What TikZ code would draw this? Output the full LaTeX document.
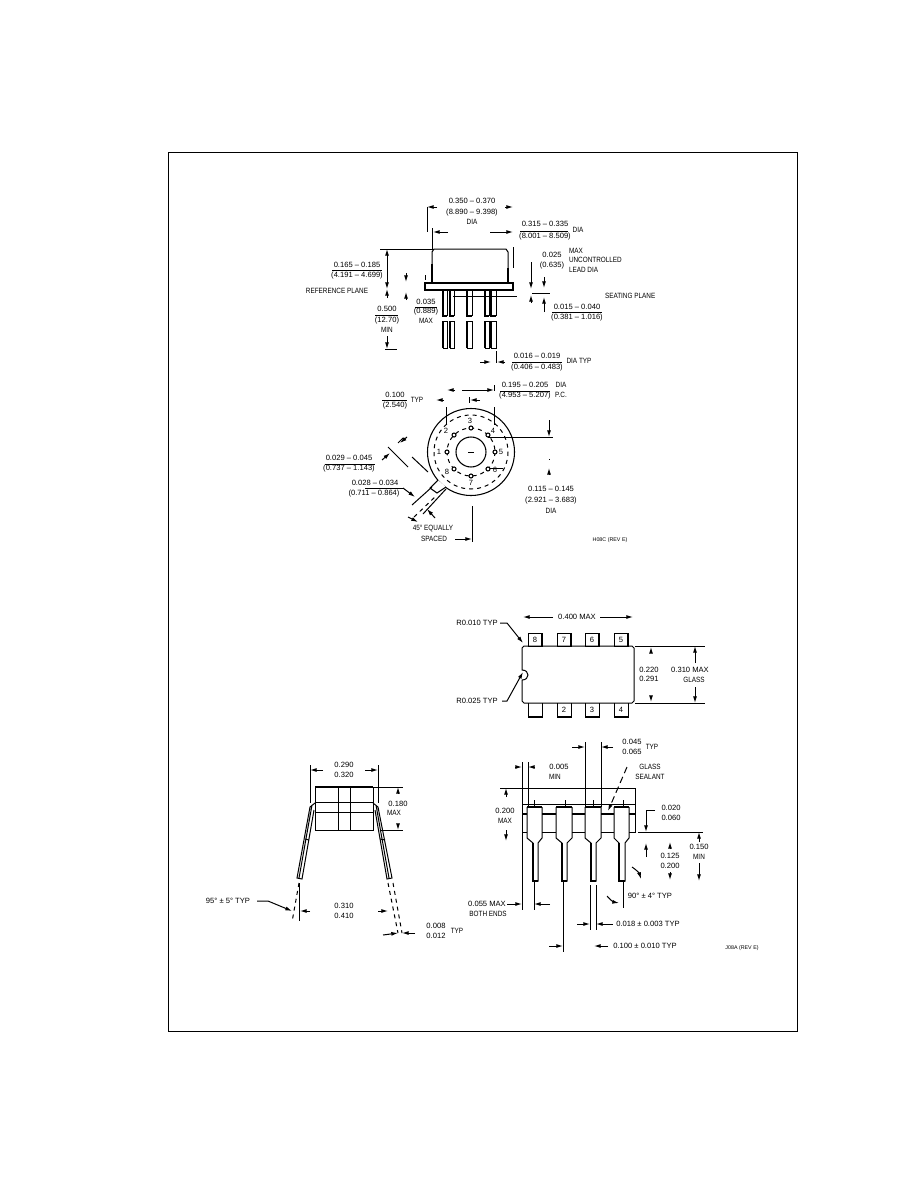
\documentclass[tikz,border=0pt]{standalone}
\usepackage{fontspec}
\setmainfont{Liberation Sans}
\newfontfamily\capsfont[FakeStretch=0.84]{Liberation Sans}
\usepackage{tikz}
\usetikzlibrary{arrows.meta,calc}
\newcommand{\lab}[3]{\node[dimtext] (#1) at (#2) {#3};}
\newcommand{\caplab}[3]{\node[captext] (#1) at (#2) {#3};}
\newcommand{\caplableft}[3]{\node[captext,anchor=west] (#1) at (#2) {#3};}
\newcommand{\tinylab}[3]{\node[dimtext,font=\fontsize{4}{4}\selectfont] (#1) at (#2) {#3};}
\newcommand{\dimrule}[3]{\draw (#1,#3) -- (#2,#3);}
\newcommand{\toppin}[3]{
	\draw (#1,633) rectangle (#2,646);
	\draw[heavy] (#2,633) -- (#2,646);
	\lab{top#3}{$(#1,639.5)!0.5!(#2,639.5)$}{#3}
}
\newcommand{\botpin}[3]{
	\draw (#1,703) -- (#1,717) -- (#2,717) -- (#2,703);
	\draw[heavy] (#1,717) -- (#2,717);
	\lab{bot#3}{$(#1,710)!0.5!(#2,710)$}{#3}
}
\newcommand{\frontpin}[5]{
	\draw (#1,807) -- (#1,838) -- (#3,843) -- (#3,881) -- (#4,881) -- (#4,843) -- (#2,838) -- (#2,807);
	\draw[heavy] (#1,807) -- (#2,807);
	\draw[heavy] (#3,843) -- (#3,881) -- (#4,881);
	\draw (#5,800) -- (#5,807);
}
\tikzset{
	dimtext/.style={inner sep=0pt,outer sep=0pt,font=\fontsize{5.7}{6}\selectfont},
	captext/.style={inner sep=0pt,outer sep=0pt,font=\fontsize{5.7}{6}\capsfont},
	dimarrow/.style={-{Latex[length=5pt,width=3pt]}},
	heavy/.style={line width=1.5pt},
	leaddash/.style={dash pattern=on 5pt off 3pt}
}

\begin{document}
\begin{tikzpicture}[x=0.75pt,y=-0.75pt,line width=0.75pt]
	\path[use as bounding box,fill=white] (0,0) rectangle (918,1188);
	\draw (168,152) rectangle (797,1031);

	% metal can, side
	\draw (432,283) -- (432,252) -- (434,249) -- (506,249) -- (508,252) -- (508,283);
	\draw[fill=white,thick] (425,283) rectangle (513,290);
	\draw[heavy] (432,264) -- (432,283) (508,268) -- (508,283) (425,290) -- (513,290) (476,283) -- (513,283);
	\foreach \xa/\xb in {443/447,450/454,467/472,485/489,491/496}{
		\draw[heavy] (\xa,290) -- (\xa,316) -- (\xb,316);
		\draw (\xb,290) -- (\xb,316);
		\draw[heavy] (\xa,348) -- (\xa,321);
		\draw (\xa,321) -- (\xb,321) -- (\xb,348) -- (\xa,348);
	}
	\draw (453,296) -- (517,296);
	\draw (380,249) -- (432,249);
	\draw (427,207) -- (427,232) (432,228) -- (432,250);
	\draw (513,247) -- (513,268);
	\draw[dimarrow] (437,207) -- (427,207);
	\draw[dimarrow] (505,207) -- (513,207);
	\draw[dimarrow] (448,232) -- (433,232);
	\draw[dimarrow] (490,232) -- (513,232);
	\draw[dimarrow] (387,265) -- (387,249);
	\draw[dimarrow] (387,265) -- (387,289);
	\draw[dimarrow] (387,298) -- (387,289);
	\draw[dimarrow] (387,336) -- (387,349);
	\draw (385,349) -- (397,349);
	\draw[dimarrow] (406,273) -- (406,282);
	\draw[dimarrow] (406,300) -- (406,292);
	\draw (425,275) -- (425,280);
	\draw[dimarrow] (531,262) -- (531,289);
	\draw[dimarrow] (544,277) -- (544,288);
	\draw (532,293) -- (550,293);
	\draw[dimarrow] (531,303) -- (531,295);
	\draw[dimarrow] (544,312) -- (544,297);
	\draw[dimarrow] (480,362) -- (491,362);
	\draw (496,351) -- (496,363);
	\draw[dimarrow] (505,362) -- (497,362);

	\lab{canA}{472,201}{0.350 -- 0.370}
	\lab{canB}{472,213}{(8.890 -- 9.398)}
	\caplab{canC}{472,222}{DIA}
	\lab{capA}{545,224}{0.315 -- 0.335}
	\dimrule{520}{568}{231}
	\lab{capB}{545,237}{(8.001 -- 8.509)}
	\caplab{capC}{578,230}{DIA}
	\lab{hgtA}{357,265}{0.165 -- 0.185}
	\dimrule{332}{382}{270}
	\lab{hgtB}{357,276}{(4.191 -- 4.699)}
	\caplab{refp}{337,291}{REFERENCE PLANE}
	\lab{minA}{387,309}{0.500}
	\dimrule{375}{398}{315}
	\lab{minB}{387,321}{(12.70)}
	\caplab{minC}{387,330}{MIN}
	\lab{flgA}{426,302}{0.035}
	\dimrule{415}{437}{307}
	\lab{flgB}{426,312}{(0.889)}
	\caplab{flgC}{426,321}{MAX}
	\lab{uncA}{552,255}{0.025}
	\lab{uncB}{552,266}{(0.635)}
	\caplableft{uncC}{569,251}{MAX}
	\caplableft{uncD}{569,260}{UNCONTROLLED}
	\caplableft{uncE}{569,270}{LEAD DIA}
	\caplableft{seat}{605,296}{SEATING PLANE}
	\lab{seaA}{577,307}{0.015 -- 0.040}
	\dimrule{552}{602}{312}
	\lab{seaB}{577,318}{(0.381 -- 1.016)}
	\lab{ledA}{537,356}{0.016 -- 0.019}
	\dimrule{512}{562}{362}
	\lab{ledB}{537,368}{(0.406 -- 0.483)}
	\caplab{ledC}{579,361}{DIA TYP}

	% metal can, from below
	\coordinate (O) at (471,452);
	\draw[thick] (O) circle (43.5);
	\fill[white] (438,480) -- (446,487) -- (437,493) -- (430,488) -- cycle;
	\draw[thick] (446,487) -- (437,493) -- (430,488) -- (438,480);
	\draw[dashed] (O) circle (37);
	\draw[dashed] (O) circle (24);
	\draw[thick] (O) circle (15);
	\draw (468,452) -- (474,452);
	\foreach \a in {0,45,...,315}{
		\draw[fill=white,thick] ($(O)+(\a:24)$) circle (2);
	}
	\lab{pinA}{439,452}{1}
	\lab{pinB}{446,431}{2}
	\lab{pinC}{470,421}{3}
	\lab{pinD}{493,431}{4}
	\lab{pinE}{501,452}{5}
	\lab{pinF}{495,470}{6}
	\lab{pinG}{471,483}{7}
	\lab{pinH}{447,472}{8}

	\draw (446,407) -- (446,425) (494,407) -- (494,425) (494,385) -- (494,391);
	\draw[dimarrow] (444,400) -- (436,400);
	\draw[dimarrow] (480,400) -- (470,400);
	\draw (469,397) -- (469,403);
	\draw[dimarrow] (462,390) -- (494,390);
	\draw[dimarrow] (455,390) -- (447,390);
	\draw (488,437) -- (553,437);
	\draw[dimarrow] (549,420) -- (549,437);
	\draw[dimarrow] (549,475) -- (549,468);
	\draw (549,459) -- (549,460);
	\draw (490,468) -- (503,468);
	% ruled lines at the tab
	\draw (388,447) -- (408,467) (412,457) -- (428,472);
	\draw (398,443) -- (403,438);
	\draw[dimarrow] (407,437) -- (400,443);
	\draw[dimarrow] (382,460) -- (390,453);
	\draw (412,505) -- (432,487) (423,514) -- (446,489);
	\draw[dashed] (414,517) -- (437,495);
	\draw[dimarrow] (403,488) -- (415,497);
	\draw[dimarrow] (435,518) -- (427,509);
	\draw[dimarrow] (408,517) -- (418,522);
	\draw (472,506) -- (472,542);
	\draw[dimarrow] (455,539) -- (472,539);

	\lab{typA}{395,395}{0.100}
	\dimrule{382}{407}{400}
	\lab{typB}{395,406}{(2.540)}
	\caplab{typC}{417,400}{TYP}
	\lab{pcdA}{525,385}{0.195 -- 0.205}
	\dimrule{500}{550}{391}
	\lab{pcdB}{525,396}{(4.953 -- 5.207)}
	\caplab{pcdC}{561,385}{DIA}
	\caplab{pcdD}{561,395}{P.C.}
	\lab{tabA}{349,458}{0.029 -- 0.045}
	\dimrule{325}{375}{464}
	\lab{tabB}{349,469}{(0.737 -- 1.143)}
	\lab{wdtA}{375,483}{0.028 -- 0.034}
	\dimrule{365}{403}{488}
	\lab{wdtB}{374,494}{(0.711 -- 0.864)}
	\caplab{eqlA}{433,529}{45° EQUALLY}
	\caplab{eqlB}{434,539}{SPACED}
	\lab{rimA}{551,489}{0.115 -- 0.145}
	\lab{rimB}{551,501}{(2.921 -- 3.683)}
	\caplab{rimC}{551,511}{DIA}
	\tinylab{refA}{610,540}{H08C (REV E)}

	% dual in line, from above
	\draw (524,646) -- (632,646) -- (634,648) -- (634,701) -- (632,703) -- (524,703) -- (522,701) -- (522,680) .. controls (530,680) and (530,670) .. (522,670) -- (522,648) -- cycle;
	\toppin{528}{542}{8}
	\toppin{557}{571}{7}
	\toppin{585}{599}{6}
	\toppin{614}{628}{5}
	\botpin{528}{542}{}
	\botpin{557}{571}{2}
	\botpin{585}{599}{3}
	\botpin{614}{628}{4}
	\lab{dipA}{577,617}{0.400 MAX}
	\draw[dimarrow] (553,617) -- (523,617);
	\draw[dimarrow] (600,617) -- (633,617);
	\draw (635,646) -- (705,646) (635,703) -- (705,703);
	\draw[dimarrow] (651,652) -- (651,647);
	\draw[dimarrow] (651,697) -- (651,702);
	\lab{dipB}{649,670}{0.220}
	\lab{dipC}{649,679}{0.291}
	\draw[dimarrow] (695,663) -- (695,646);
	\draw[dimarrow] (695,687) -- (695,703);
	\lab{dipD}{690,670}{0.310 MAX}
	\caplab{dipE}{694,680}{GLASS}
	\lab{radA}{477,623}{R0.010 TYP}
	\draw[dimarrow] (500,623) -- (507,623) -- (523,643);
	\lab{radB}{477,701}{R0.025 TYP}
	\draw[dimarrow] (502,701) -- (507,701) -- (523,672);

	% dual in line, from the side
	\draw (522,788) rectangle (635,832);
	\draw (522,804) -- (635,804);
	\draw[heavy] (522,814) -- (635,814);
	\foreach \xa/\xb/\xc/\xd/\xe in {527/542/533/538/534,556/572/562/567/565,585/601/591/596/593,614/629/619/625/623}{
		\fill[white] (\xa,807) rectangle (\xb,838);
		\frontpin{\xa}{\xb}{\xc}{\xd}{\xe}
	}
	\draw (585,742) -- (585,807) (601,742) -- (601,807);
	\draw[dimarrow] (572,747) -- (585,747);
	\draw[dimarrow] (613,747) -- (601,747);
	\lab{frtA}{632,742}{0.045}
	\lab{frtB}{632,752}{0.065}
	\caplab{frtC}{652,747}{TYP}
	\draw (522,762) -- (522,910) (528,762) -- (528,807);
	\draw[dimarrow] (515,767) -- (522,767);
	\draw[dimarrow] (534,767) -- (528,767);
	\lab{frtD}{559,767}{0.005}
	\caplab{frtE}{555,777}{MIN}
	\caplab{glsA}{650,767}{GLASS}
	\caplab{glsB}{650,777}{SEALANT}
	\draw[dimarrow,leaddash] (627,767) -- (608,811);
	\draw (500,788) -- (522,788);
	\draw[dimarrow] (506,797) -- (506,788);
	\draw[dimarrow] (506,830) -- (506,841);
	\lab{frtF}{505,811}{0.200}
	\caplab{frtG}{505,821}{MAX}
	\draw[dimarrow] (655,810) -- (646,810) -- (646,832);
	\draw (638,832) -- (703,832);
	\draw[dimarrow] (646,857) -- (646,843);
	\lab{frtH}{671,808}{0.020}
	\lab{frtI}{671,818}{0.060}
	\draw[dimarrow] (670,849) -- (670,842);
	\draw[dimarrow] (670,872) -- (670,880);
	\lab{frtJ}{670,856}{0.125}
	\lab{frtK}{670,866}{0.200}
	\draw[dimarrow] (699,842) -- (699,832);
	\draw[dimarrow] (699,863) -- (699,881);
	\lab{frtL}{699,847}{0.150}
	\caplab{frtM}{699,857}{MIN}
	\draw (590,885) -- (590,930) (596,885) -- (596,930);
	\draw[dimarrow] (577,924) -- (590,924);
	\draw[dimarrow] (613,924) -- (596,924);
	\lab{frtN}{648,924}{0.018 ± 0.003 TYP}
	\draw[dimarrow] (632,867) to[bend left=20] (641,879);
	\draw[dimarrow] (607,896) to[bend right=20] (619,903);
	\lab{frtO}{650,896}{90° ± 4° TYP}
	\draw (623,882) -- (623,908);
	\draw (534,881) -- (534,910);
	\draw[dimarrow] (507,904) -- (522,904);
	\draw[dimarrow] (550,904) -- (534,904);
	\lab{frtP}{487,904}{0.055 MAX}
	\caplab{frtQ}{488,914}{BOTH ENDS}
	\draw (563,882) -- (563,952);
	\draw[dimarrow] (549,946) -- (563,946);
	\draw[dimarrow] (608,946) -- (594,946);
	\lab{frtR}{645,946}{0.100 ± 0.010 TYP}
	\tinylab{refB}{742,948}{J08A (REV E)}

	% dual in line, from the end
	\draw (315,787) rectangle (373,830);
	\draw[heavy] (315,787) -- (373,787);
	\draw (315,802) -- (373,802) (315,812) -- (373,812) (338,787) -- (338,830) (350,787) -- (350,830);
	\draw (315,803) -- (310,807) -- (297,878) -- (302,879) -- (314,810) (312,805) -- (299,878);
	\draw (373,803) -- (378,807) -- (392,878) -- (387,879) -- (375,810) (376,805) -- (389,878);
	\draw (305,839) -- (309,840) (380,839) -- (385,840);
	\draw (299,883) -- (299,921);
	\draw[dashed] (299,883) -- (292,922);
	\draw[dashed] (388,883) -- (398,933) (393,883) -- (402,933);
	\draw (310,765) -- (310,803) (378,765) -- (378,803);
	\draw[dimarrow] (323,770) -- (310,770);
	\draw[dimarrow] (365,770) -- (378,770);
	\lab{endA}{344,765}{0.290}
	\lab{endB}{344,775}{0.320}
	\draw (373,787) -- (403,787) (380,830) -- (403,830);
	\draw[dimarrow] (398,793) -- (398,787);
	\draw[dimarrow] (398,824) -- (398,830);
	\lab{endC}{398,804}{0.180}
	\caplab{endD}{394,813}{MAX}
	\lab{endE}{228,901}{95° ± 5° TYP}
	\draw[dimarrow] (257,901) -- (268,901) -- (292,911);
	\draw[dimarrow] (310,911) -- (300,911);
	\draw[dimarrow] (378,911) -- (388,911);
	\lab{endF}{344,906}{0.310}
	\lab{endG}{344,916}{0.410}
	\draw[dimarrow] (383,935) -- (398,933);
	\draw[dimarrow] (415,933) -- (402,933);
	\lab{endH}{436,926}{0.008}
	\lab{endI}{436,936}{0.012}
	\caplab{endJ}{457,931}{TYP}
\end{tikzpicture}
\end{document}
